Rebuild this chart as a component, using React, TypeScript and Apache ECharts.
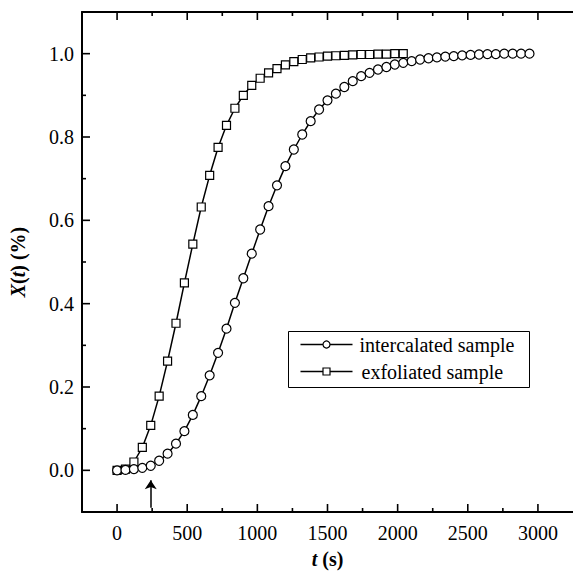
import React, { useEffect, useRef } from "react";
import * as echarts from "echarts";

// Sample times (s)
const sampleTimes = [
  0, 60, 120, 180, 240, 300, 360, 420, 480, 540, 600, 660, 720, 780, 840, 900,
  960, 1020, 1080, 1140, 1200, 1260, 1320, 1380, 1440, 1500, 1560, 1620, 1680,
  1740, 1800, 1860, 1920, 1980, 2040, 2100, 2160, 2220, 2280, 2340, 2400, 2460,
  2520, 2580, 2640, 2700, 2760, 2820, 2880, 2940,
];

// X(t) for the intercalated sample (circles)
const intercalated = [
  0, 0.001, 0.003, 0.006, 0.011, 0.023, 0.04, 0.064, 0.094, 0.133, 0.178,
  0.228, 0.282, 0.34, 0.402, 0.461, 0.52, 0.578, 0.634, 0.684, 0.73, 0.77,
  0.806, 0.838, 0.866, 0.888, 0.904, 0.92, 0.934, 0.946, 0.954, 0.962, 0.968,
  0.974, 0.978, 0.982, 0.986, 0.989, 0.991, 0.993, 0.994, 0.996, 0.997, 0.998,
  0.999, 0.999, 1.0, 1.0, 1.0, 1.0,
];

// X(t) for the exfoliated sample (squares)
const exfoliated = [
  0, 0.003, 0.02, 0.055, 0.108, 0.178, 0.262, 0.353, 0.45, 0.543, 0.632,
  0.708, 0.775, 0.828, 0.869, 0.9, 0.924, 0.941, 0.954, 0.964, 0.973, 0.981,
  0.986, 0.99, 0.992, 0.994, 0.995, 0.996, 0.997, 0.998, 0.998, 0.999, 0.999,
  1.0, 1.0,
];

const seriesNames = ["intercalated sample", "exfoliated sample"];
const xTickValues = [0, 500, 1000, 1500, 2000, 2500, 3000];
const xMinorValues = [250, 750, 1250, 1750, 2250, 2750];
const yTickValues = [0, 0.2, 0.4, 0.6, 0.8, 1.0];
const yMinorValues = [0.1, 0.3, 0.5, 0.7, 0.9];
const xRange = [-250, 3250];
const yRange = [-0.1, 1.1];
// arrow marking onset time
const arrowTime = 240;
const arrowFrom = -0.09;
const arrowTo = -0.024;

const FONT = "Liberation Serif, Times New Roman, serif";
const MAJOR_LEN = 8;
const MINOR_LEN = 4;

export default function App() {
  const ref = useRef<HTMLDivElement>(null);

  useEffect(() => {
    if (!ref.current) return;
    const chart = echarts.init(ref.current, undefined, { renderer: "svg" });

    const baseX = { type: "value", min: xRange[0], max: xRange[1], splitLine: { show: false } };
    const baseY = { type: "value", min: yRange[0], max: yRange[1], splitLine: { show: false } };

    const richTitle = {
      it: { fontStyle: "italic", fontWeight: "bold", fontSize: 20, fontFamily: FONT, color: "#000" },
      b: { fontWeight: "bold", fontSize: 20, fontFamily: FONT, color: "#000" },
    };

    const option: any = {
      animation: false,
      backgroundColor: "#fff",
      textStyle: { fontFamily: FONT },
      grid: { left: 82, top: 12, width: 500, height: 500, containLabel: false },
      xAxis: [
        {
          ...baseX,
          position: "bottom",
          axisLine: { show: true, onZero: false, lineStyle: { color: "#000", width: 2 } },
          axisTick: { show: false },
          axisLabel: {
            customValues: xTickValues,
            color: "#000",
            fontSize: 20,
            fontFamily: FONT,
            margin: 11,
            formatter: (v: number) => String(v),
          },
          name: "{it|t} {b|(s)}",
          nameLocation: "middle",
          nameGap: 37,
          nameTextStyle: { fontSize: 20, fontFamily: FONT, fontWeight: "bold", color: "#000", rich: richTitle },
        },
        {
          ...baseX,
          position: "top",
          axisLine: { show: true, onZero: false, lineStyle: { color: "#000", width: 2 } },
          axisTick: { show: false },
          axisLabel: { show: false },
        },
      ],
      yAxis: [
        {
          ...baseY,
          position: "left",
          axisLine: { show: true, onZero: false, lineStyle: { color: "#000", width: 2 } },
          axisTick: { show: false },
          axisLabel: {
            customValues: yTickValues,
            color: "#000",
            fontSize: 20,
            fontFamily: FONT,
            margin: 8,
            formatter: (v: number) => v.toFixed(1),
          },
          name: "{it|X}{b|(}{it|t}{b|) (%)}",
          nameLocation: "middle",
          nameRotate: 90,
          nameGap: 54,
          nameTextStyle: { fontSize: 20, fontFamily: FONT, fontWeight: "bold", color: "#000", rich: richTitle },
        },
      ],
      series: [
        {
          type: "line",
          name: seriesNames[1],
          xAxisIndex: 0,
          yAxisIndex: 0,
          data: exfoliated.map((v, i) => [sampleTimes[i], v]),
          symbol: "rect",
          symbolSize: 8,
          showAllSymbol: true,
          lineStyle: { color: "#000", width: 1.5 },
          itemStyle: { color: "#fff", borderColor: "#000", borderWidth: 1.2 },
          emphasis: { disabled: true },
        },
        {
          type: "line",
          name: seriesNames[0],
          xAxisIndex: 0,
          yAxisIndex: 0,
          data: intercalated.map((v, i) => [sampleTimes[i], v]),
          symbol: "circle",
          symbolSize: 9,
          showAllSymbol: true,
          lineStyle: { color: "#000", width: 1.5 },
          itemStyle: { color: "#fff", borderColor: "#000", borderWidth: 1.2 },
          emphasis: { disabled: true },
          markLine: {
            silent: true,
            symbol: ["none", "arrow"],
            symbolSize: 9,
            label: { show: false },
            lineStyle: { color: "#000", width: 1.5, type: "solid" },
            data: [[{ coord: [arrowTime, arrowFrom] }, { coord: [arrowTime, arrowTo] }]],
          },
        },
      ],
      graphic: [
        {
          type: "group",
          id: "legend",
          left: 288,
          top: 331,
          children: [
            { type: "rect", shape: { x: 0, y: 0, width: 241, height: 56 }, style: { fill: "#fff", stroke: "#000", lineWidth: 1 } },
            { type: "line", shape: { x1: 12, y1: 13, x2: 64, y2: 13 }, style: { stroke: "#000", lineWidth: 1.5 } },
            { type: "circle", shape: { cx: 38, cy: 13, r: 3.5 }, style: { fill: "#fff", stroke: "#000", lineWidth: 1.2 } },
            {
              type: "text",
              x: 71,
              y: 13,
              style: { text: seriesNames[0], fontSize: 20, fontFamily: FONT, fill: "#000", verticalAlign: "middle", align: "left" },
            },
            { type: "line", shape: { x1: 12, y1: 40, x2: 64, y2: 40 }, style: { stroke: "#000", lineWidth: 1.5 } },
            { type: "rect", shape: { x: 34.5, y: 36.5, width: 7, height: 7 }, style: { fill: "#fff", stroke: "#000", lineWidth: 1.2 } },
            {
              type: "text",
              x: 73,
              y: 40,
              style: { text: seriesNames[1], fontSize: 20, fontFamily: FONT, fill: "#000", verticalAlign: "middle", align: "left" },
            },
          ],
        },
      ],
    };

    chart.setOption(option);

    // Inward ticks on the frame, positioned through the chart's own scales
    const toPx = (x: number, y: number) => chart.convertToPixel({ gridIndex: 0 }, [x, y]) as number[];
    const topLeft = toPx(xRange[0], yRange[1]);
    const bottomRight = toPx(xRange[1], yRange[0]);
    const ticks: any[] = [];
    const tick = (x1: number, y1: number, x2: number, y2: number) =>
      ticks.push({
        type: "line",
        id: "tick" + ticks.length,
        shape: { x1, y1, x2, y2 },
        style: { stroke: "#000", lineWidth: 1.6 },
        silent: true,
        z: 100,
      });
    const addX = (values: number[], len: number) =>
      values.forEach((v) => {
        const px = toPx(v, yRange[0])[0];
        tick(px, bottomRight[1], px, bottomRight[1] - len);
        tick(px, topLeft[1], px, topLeft[1] + len);
      });
    const addY = (values: number[], len: number) =>
      values.forEach((v) => {
        const py = toPx(xRange[0], v)[1];
        tick(topLeft[0], py, topLeft[0] + len, py);
      });
    addX(xTickValues, MAJOR_LEN);
    addX(xMinorValues, MINOR_LEN);
    addY(yTickValues, MAJOR_LEN);
    addY(yMinorValues, MINOR_LEN);

    chart.setOption({ graphic: [{ id: "legend" }, ...ticks] });

    return () => chart.dispose();
  }, []);

  return (
    <div
      ref={ref}
      style={{ position: "absolute", left: 0, top: 0, width: 573, height: 575, background: "#fff" }}
    />
  );
}
